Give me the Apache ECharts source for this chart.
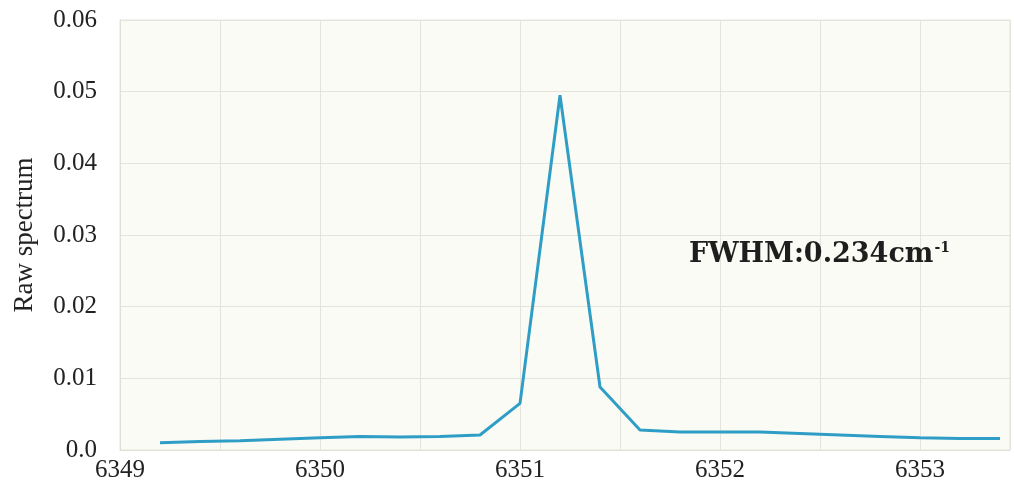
<!DOCTYPE html>
<html>
<head>
<meta charset="utf-8">
<title>Raw spectrum</title>
<script src="https://cdn.jsdelivr.net/npm/echarts@6/dist/echarts.min.js"></script>
<style>
    html, body { margin: 0; padding: 0; background: #ffffff; }
    #chart { width: 1014px; height: 500px; }
</style>
</head>
<body>
<div id="chart"></div>
<script>
// 波数 (cm-1)
var waveNumbers = [6349.2, 6349.4, 6349.6, 6349.8, 6350.0, 6350.2, 6350.4, 6350.6, 6350.8, 6351.0, 6351.2,
    6351.4, 6351.6, 6351.8, 6352.0, 6352.2, 6352.4, 6352.6, 6352.8, 6353.0, 6353.2, 6353.4];
// 原始光谱
var rawSpectrum = [0.0010, 0.0012, 0.0013, 0.0015, 0.0017, 0.0019, 0.0018, 0.0019, 0.0021, 0.0065, 0.0495,
    0.0088, 0.0028, 0.0025, 0.0025, 0.0025, 0.0023, 0.0021, 0.0019, 0.0017, 0.0016, 0.0016];
var yTickLabels = ['0.0', '0.01', '0.02', '0.03', '0.04', '0.05', '0.06'];
var fwhmText = 'FWHM:0.234cm';

var seriesData = [];
for (var i = 0; i < waveNumbers.length; i++) {
    seriesData.push([waveNumbers[i], rawSpectrum[i]]);
}

var serif = 'Liberation Serif';
var option = {
    backgroundColor: '#ffffff',
    animation: false,
    grid: {
        left: 120,
        right: 4,
        top: 20,
        bottom: 50,
        show: true,
        backgroundColor: '#fbfbf5',
        borderColor: '#e4e4dc',
        borderWidth: 1
    },
    title: {
        left: 684,
        top: 236,
        text: '{a|' + fwhmText + '}{b|-1}',
        textStyle: {
            rich: {
                a: { fontFamily: 'DejaVu Serif', fontWeight: 'bold', fontSize: 27, color: '#1e1e1e' },
                b: { fontFamily: 'DejaVu Serif', fontSize: 14, color: '#1e1e1e', verticalAlign: 'top', padding: [0, 0, 12, 1] }
            }
        }
    },
    xAxis: {
        type: 'value',
        min: 6349,
        max: 6353.45,
        interval: 0.5,
        axisLine: { show: true, lineStyle: { color: '#e0e0d8' } },
        axisTick: { show: false },
        splitLine: { show: true, lineStyle: { color: '#e4e4dc', width: 1 } },
        axisLabel: {
            margin: 8,
            fontFamily: serif,
            fontSize: 25,
            color: '#222222',
            showMaxLabel: false,
            formatter: function (v) {
                return Math.abs(v - Math.round(v)) < 1e-6 ? String(Math.round(v)) : '';
            }
        }
    },
    yAxis: {
        type: 'value',
        min: 0,
        max: 0.06,
        interval: 0.01,
        name: 'Raw spectrum',
        nameLocation: 'middle',
        nameGap: 82,
        nameTextStyle: { fontFamily: serif, fontSize: 27, color: '#222222' },
        axisLine: { show: true, lineStyle: { color: '#e0e0d8' } },
        axisTick: { show: false },
        splitLine: { show: true, lineStyle: { color: '#e4e4dc', width: 1 } },
        axisLabel: {
            margin: 23,
            fontFamily: serif,
            fontSize: 25,
            color: '#222222',
            formatter: function (v) {
                return yTickLabels[Math.round(v * 100)];
            }
        }
    },
    series: [
        {
            name: 'Raw spectrum',
            type: 'line',
            data: seriesData,
            showSymbol: false,
            lineStyle: { color: '#2f9ec6', width: 3 },
            itemStyle: { color: '#2f9ec6' }
        }
    ]
};

//初始化echarts实例
var myChart = echarts.init(document.getElementById('chart'));
myChart.setOption(option, true);
</script>
</body>
</html>
